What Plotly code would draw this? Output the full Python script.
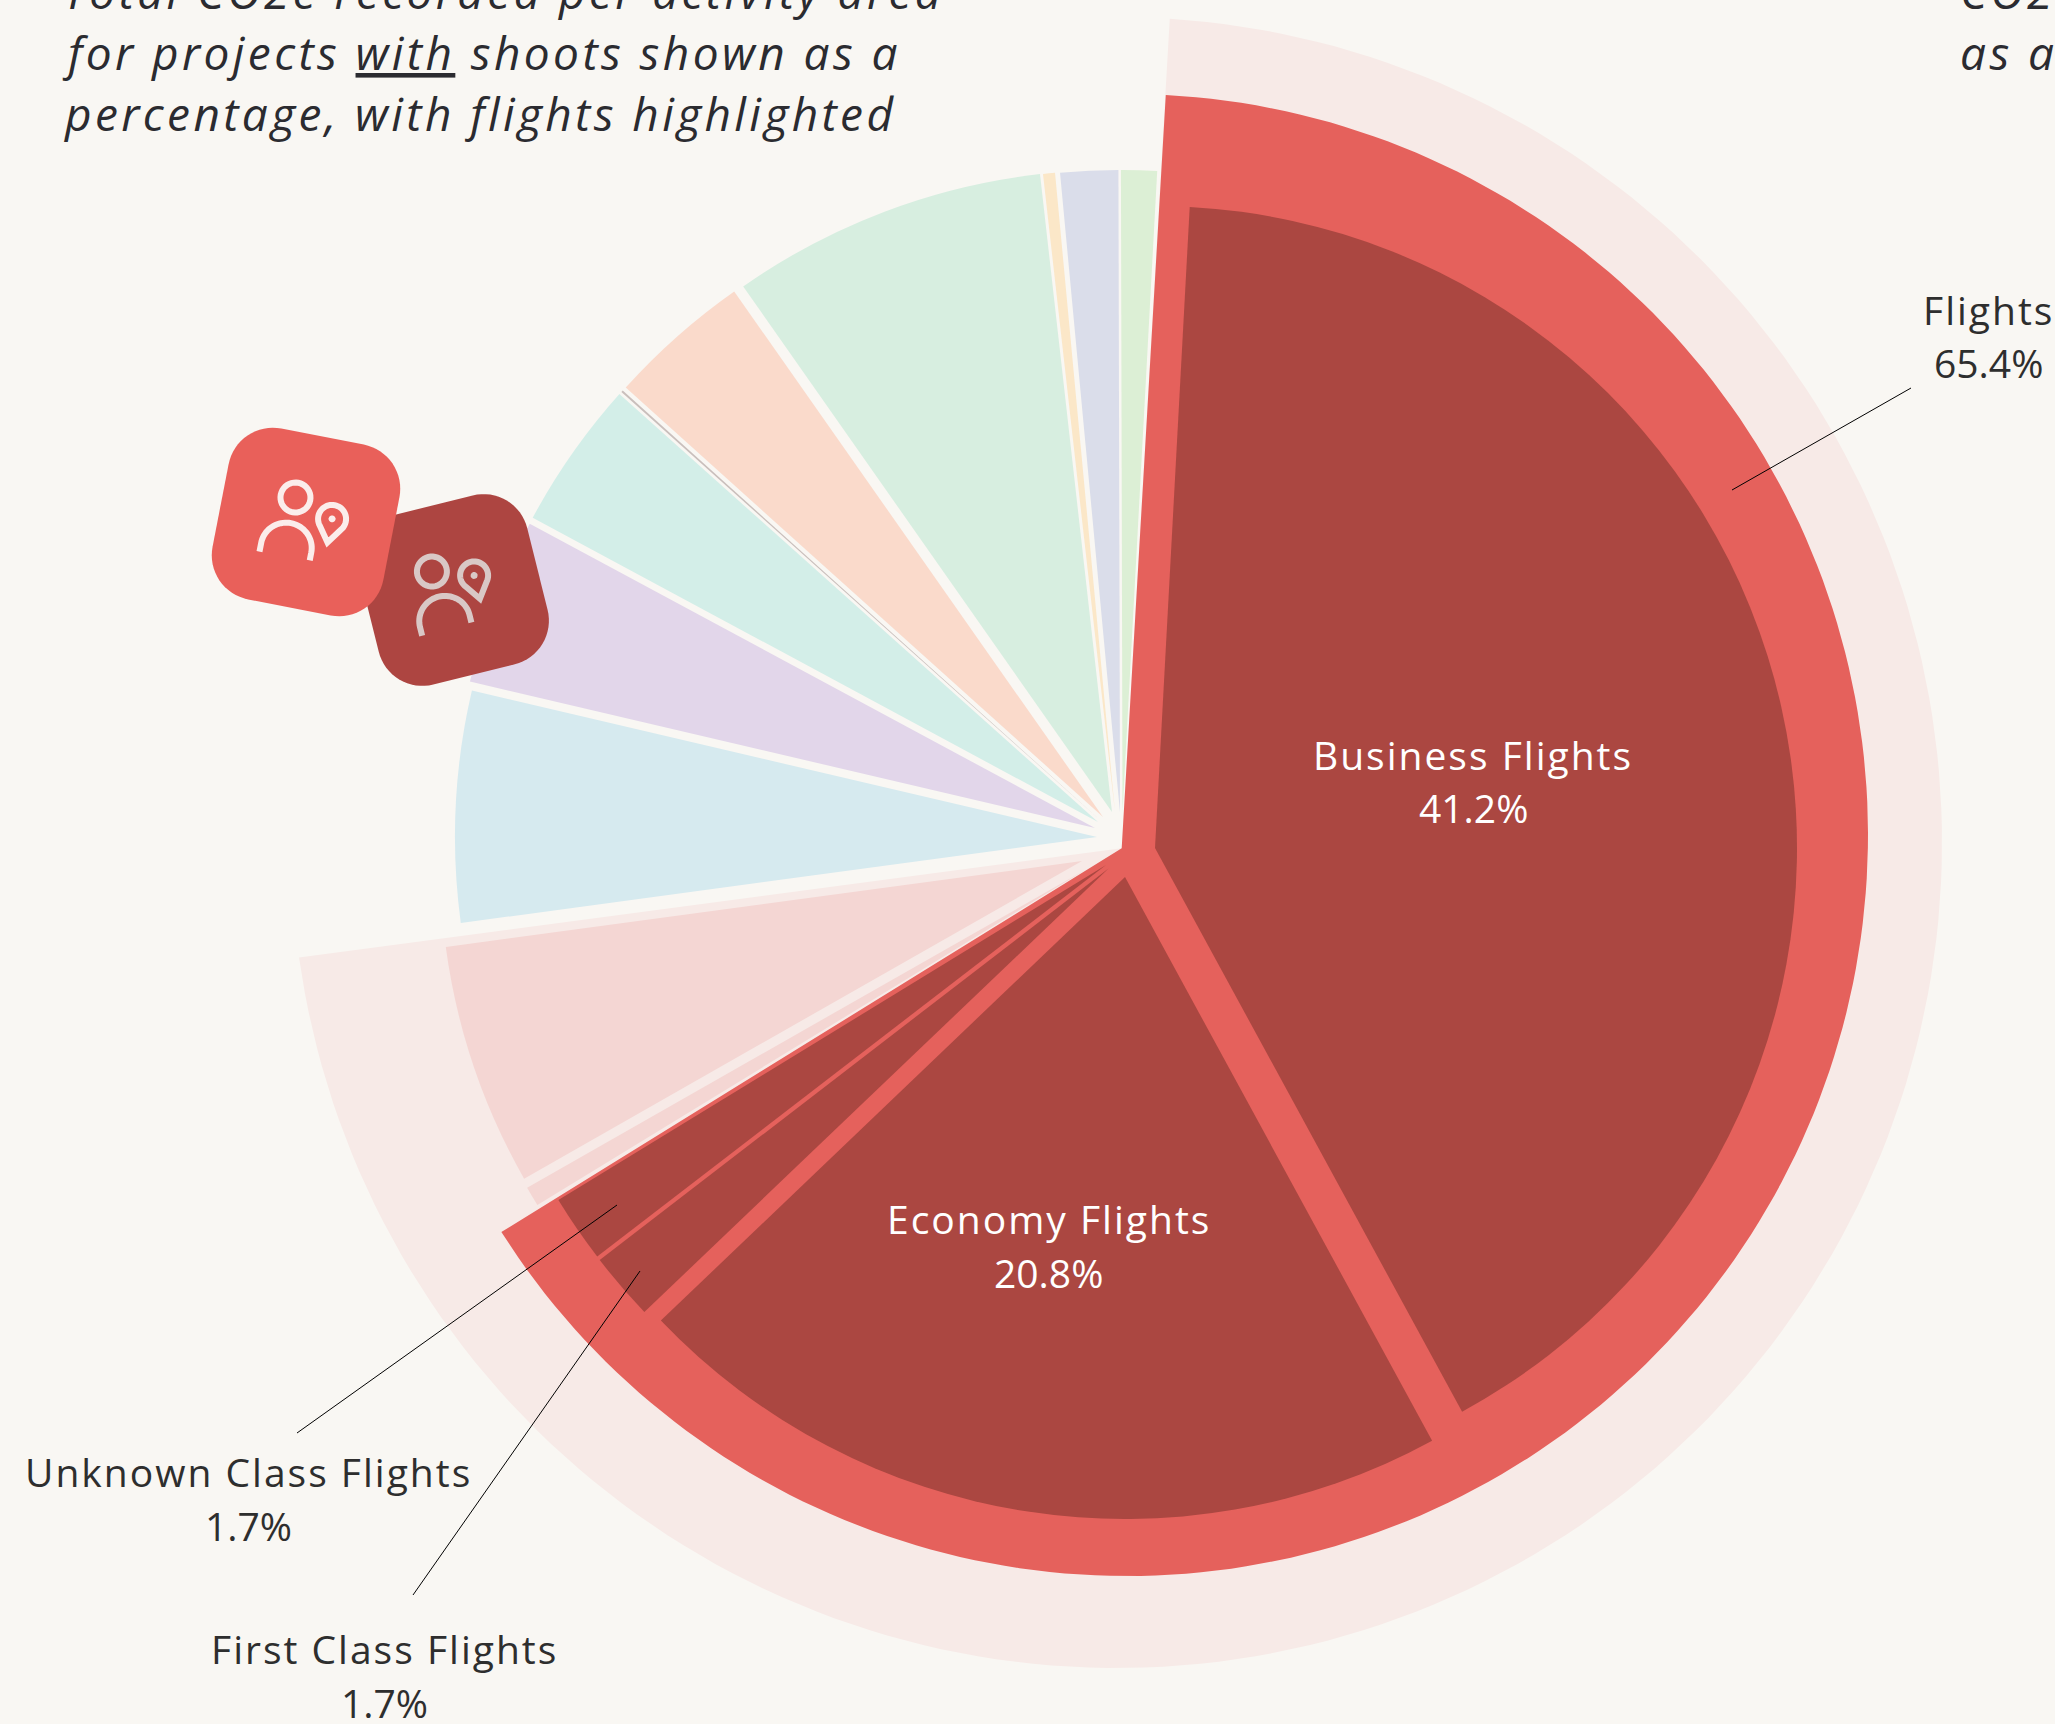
import math
import plotly.graph_objects as go

W, H = 2055, 1724
BG = "#F9F7F3"
INK = "#2E2E2E"
TITLE_FONT = "Open Sans"
LABEL_FONT = "Open Sans"

# ---- data: share of total CO2e (%) ----
categories = ["Business Flights", "Economy Flights", "First Class Flights", "Unknown Class Flights",
              "Other travel (small)", "Other travel", "Activity A", "Activity B", "Activity C",
              "Activity D", "Activity E", "Activity F", "Activity G", "Activity H", "Activity I"]
shares = [41.2, 20.8, 1.7, 1.7, 0.5, 6.1, 5.8, 4.2, 3.75, 0.05, 3.6, 7.95, 0.3, 1.45, 0.9]
flights_total = 65.4
travel_total = 71.9

# ---- styles and layout ----
colors = ["#AB4741", "#AB4741", "#AB4741", "#AB4741", "#F4D6D3", "#F4D6D3", "#D6EAEF", "#E2D6EA",
          "#D3EEE8", "#C9BFBC", "#FADACB", "#D7EEE0", "#FBE7C8", "#DADDEA", "#DCEFD5"]
centers = [(1155, 848), (1125, 877), (1108.5, 868.5), (1106, 865), (1085, 870), (1082, 861), (1097, 837),
           (1095, 828), (1098, 822), (1100, 820), (1103, 817), (1112, 812), (1115, 812), (1120, 812),
           (1122.5, 812)]
SLICE_R = 642
START_ANGLE = 3.1
APEX = (1121.7, 848.3)
PALE = "#F7EAE7"
RED = "#E5615C"
backing = [  # value, colour, arc centre, radius, start angle, pad angle
    (travel_total, PALE, (1116.5, 842.5), 825.5, 3.7, 0.54),
    (flights_total, RED, (1127, 835), 741, 3.0, 0.84),
]

label_items = [
    ("Business Flights", "41.2%", 1473, 754.5, 807.5, "#FFFFFF"),
    ("Economy Flights", "20.8%", 1048.5, 1218.5, 1272.5, "#FFFFFF"),
    ("Flights", "65.4%", 1988, 309.5, 362.5, INK),
    ("Unknown Class Flights", "1.7%", 248, 1471.5, 1525.5, INK),
    ("First Class Flights", "1.7%", 384, 1648.5, 1702.5, INK),
]
leaders = [((1911, 388), (1732, 490)), ((617, 1205), (297, 1433)), ((640, 1271), (413, 1595))]
title_lines = [
    ("Total CO2e recorded per activity area", 61, -9),
    ('for projects <span style="text-decoration:underline">with</span> shoots shown as a', 60, 52),
    ("percentage, with flights highlighted", 62, 113.5),
    ("CO2e", 1958, -9),
    ("as a", 1958, 52),
]
icons = [  # centre, rotation, fill, glyph colour, glyph offset
    ((453, 590), -14.0, "#AD4541", "#D9C8C6", (-1, -1)),
    ((306, 522), 11.0, "#E9605A", "#FBEDEB", (0, 0)),
]


def px(x):
    return x / W


def py(y):
    return 1 - y / H


def sector_xy(value, centre, r, start, pad):
    end = start + value * 3.6 - pad
    n = 200
    xs, ys = [], []
    for i in range(n + 1):
        a = math.radians(start + (end - start) * i / n)
        xs.append(centre[0] + r * math.sin(a))
        ys.append(centre[1] - r * math.cos(a))
    xs.append(APEX[0])
    ys.append(APEX[1])
    xs.append(xs[0])
    ys.append(ys[0])
    return xs, ys


fig = go.Figure()

for value, colour, centre, r, start, pad in backing:
    xs, ys = sector_xy(value, centre, r, start, pad)
    fig.add_trace(go.Scatter(x=xs, y=ys, mode="lines", fill="toself", fillcolor=colour,
                             line=dict(width=0, color=colour), hoverinfo="skip", showlegend=False))

running = START_ANGLE
for name, share, colour, (cx, cy) in zip(categories, shares, colors, centers):
    fig.add_trace(go.Pie(
        labels=[name, "rest"], values=[share, 100 - share], sort=False, direction="clockwise",
        rotation=running, marker=dict(colors=[colour, "rgba(0,0,0,0)"], line=dict(width=0)),
        textinfo="none", hoverinfo="skip", showlegend=False,
        domain=dict(x=[px(cx - SLICE_R), px(cx + SLICE_R)], y=[py(cy + SLICE_R), py(cy - SLICE_R)]),
    ))
    running += share * 3.6

shapes = []
for (a, b) in leaders:
    shapes.append(dict(type="line", xref="x", yref="y", x0=a[0], y0=a[1], x1=b[0], y1=b[1],
                       line=dict(color="#000000", width=1), layer="above"))


def transform(pt, c, rot):
    t = math.radians(rot)
    return (c[0] + pt[0] * math.cos(t) - pt[1] * math.sin(t),
            c[1] + pt[0] * math.sin(t) + pt[1] * math.cos(t))


def path_of(pts, c, rot, close=False):
    q = [transform(p, c, rot) for p in pts]
    s = "M" + " L".join(f"{x:.2f},{y:.2f}" for x, y in q)
    return s + (" Z" if close else "")


def rounded_square(side, rad):
    h = side / 2
    pts = []
    for cx, cy, a0 in [(h - rad, -h + rad, -90), (h - rad, h - rad, 0), (-h + rad, h - rad, 90), (-h + rad, -h + rad, 180)]:
        for i in range(17):
            a = math.radians(a0 + 90 * i / 16)
            pts.append((cx + rad * math.cos(a), cy + rad * math.sin(a)))
    return pts


def arc(cx, cy, rx, ry, a0, a1, n=40):
    return [(cx + rx * math.cos(math.radians(a0 + (a1 - a0) * i / n)),
             cy + ry * math.sin(math.radians(a0 + (a1 - a0) * i / n))) for i in range(n + 1)]


for c, rot, fill, glyph, (ox, oy) in icons:
    shapes.append(dict(type="path", xref="x", yref="y", path=path_of(rounded_square(174, 45), c, rot, True),
                       fillcolor=fill, line=dict(width=0), layer="above"))
    stroke = dict(color=glyph, width=6)
    head = [(x + ox, y + oy) for x, y in arc(-15, -22, 15, 15, 0, 360)]
    shapes.append(dict(type="path", xref="x", yref="y", path=path_of(head, c, rot, True), line=stroke, layer="above"))
    shoulders = [(-40 + ox, 38 + oy)] + [(x + ox, y + oy) for x, y in arc(-14.5, 29, 25.5, 25, 180, 360)] + [(11 + ox, 37 + oy)]
    shapes.append(dict(type="path", xref="x", yref="y", path=path_of(shoulders, c, rot), line=stroke, layer="above"))
    drop = [(x + ox, y + oy) for x, y in arc(25, -8, 14, 14, 140, 400)] + [(25 + ox, 16 + oy)]
    shapes.append(dict(type="path", xref="x", yref="y", path=path_of(drop, c, rot, True), line=stroke, layer="above"))
    dot = [(x + ox, y + oy) for x, y in arc(25, -8, 3.5, 3.5, 0, 360, 16)]
    shapes.append(dict(type="path", xref="x", yref="y", path=path_of(dot, c, rot, True), fillcolor=glyph,
                       line=dict(width=0), layer="above"))

annotations = []
for name, pct, x, y1, y2, colour in label_items:
    annotations.append(dict(xref="paper", yref="paper", x=px(x), y=py(y1),
                            text=f'<span style="letter-spacing:2px">{name}</span>', showarrow=False,
                            xanchor="center", yanchor="middle",
                            font=dict(family=LABEL_FONT, size=39, color=colour)))
    annotations.append(dict(xref="paper", yref="paper", x=px(x), y=py(y2),
                            text=pct, showarrow=False,
                            xanchor="center", yanchor="middle",
                            font=dict(family=LABEL_FONT, size=39, color=colour)))
for text, x, y in title_lines:
    annotations.append(dict(xref="paper", yref="paper", x=px(x), y=py(y),
                            text=f'<span style="letter-spacing:3.4px"><i>{text}</i></span>', showarrow=False,
                            xanchor="left", yanchor="middle",
                            font=dict(family=TITLE_FONT, size=46, color="#2B2B30")))

fig.update_layout(
    width=W, height=H, margin=dict(l=0, r=0, t=0, b=0), autosize=False,
    paper_bgcolor=BG, plot_bgcolor=BG, showlegend=False,
    xaxis=dict(range=[0, W], visible=False, fixedrange=True),
    yaxis=dict(range=[H, 0], visible=False, fixedrange=True),
    shapes=shapes, annotations=annotations,
)

fig.write_html("out.html", config=dict(displayModeBar=False),
               post_script=f"document.body.style.margin='0';document.body.style.background='{BG}';document.documentElement.style.overflow='hidden';")
